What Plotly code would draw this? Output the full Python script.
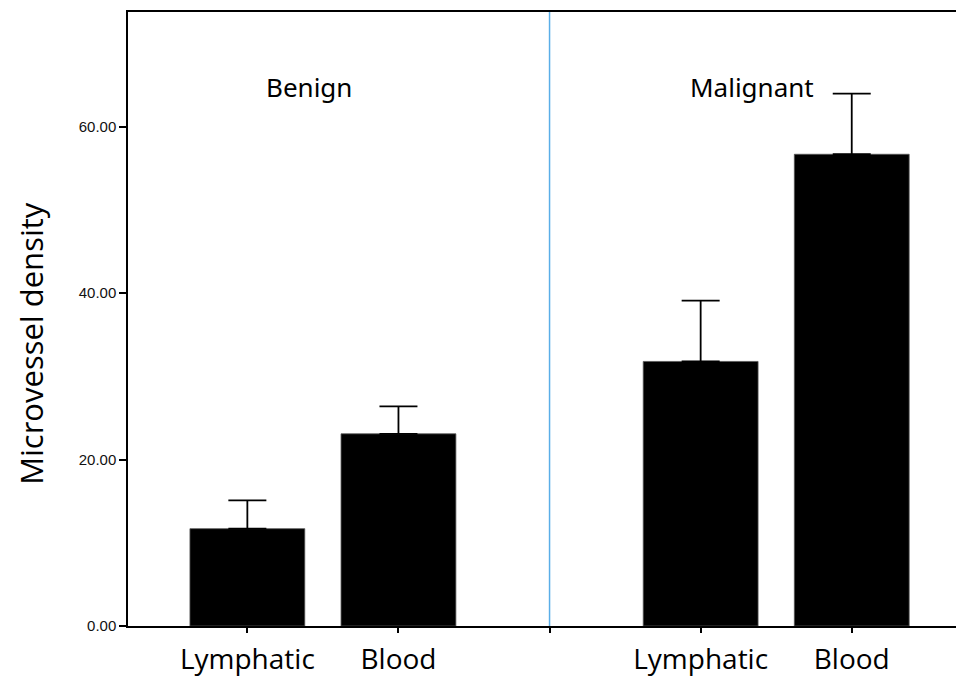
import plotly.graph_objects as go

# Data
positions = [0, 1, 3, 4]
vessel_types = ["Lymphatic", "Blood", "Lymphatic", "Blood"]
groups = ["Benign", "Benign", "Malignant", "Malignant"]
mean_density = [11.7, 23.1, 31.8, 56.7]
error_plus = [3.4, 3.3, 7.3, 7.3]

tick_positions = [0, 1, 2, 3, 4]
tick_labels = ["Lymphatic", "Blood", "", "Lymphatic", "Blood"]
y_ticks = [0, 20, 40, 60]
group_labels = ["Benign", "Malignant"]
group_label_x = [0.41, 3.34]
group_label_y = 64.8
divider_x = 2
y_title = "Microvessel density"

fig = go.Figure()
fig.add_trace(go.Bar(
    x=positions, y=mean_density, width=0.76,
    marker=dict(color="black", line=dict(color="#555", width=0.8)),
    error_y=dict(type="data", symmetric=False, array=error_plus,
                 arrayminus=[0] * len(error_plus),
                 color="black", thickness=1.8, width=19),
    showlegend=False,
))

fig.add_shape(type="line", x0=divider_x, x1=divider_x, y0=0, y1=1,
              xref="x", yref="paper",
              line=dict(color="#5aaee8", width=1.5))

for lab, lx in zip(group_labels, group_label_x):
    fig.add_annotation(x=lx, y=group_label_y, text=lab, showarrow=False,
                       font=dict(family="Noto Sans", size=26, color="black"))

fig.add_annotation(xref="paper", yref="paper", x=-0.118, y=0.46,
                   text=y_title, textangle=-90, showarrow=False,
                   xanchor="center", yanchor="middle",
                   font=dict(family="Open Sans", size=31, color="black"))

fig.update_layout(
    width=956, height=677,
    margin=dict(l=128, r=0, t=12, b=47),
    paper_bgcolor="white", plot_bgcolor="white",
    xaxis=dict(range=[-0.79, 4.69], tickvals=tick_positions, ticktext=tick_labels,
               showline=True, linecolor="black", linewidth=1.5, mirror=True,
               ticks="outside", ticklen=5, tickcolor="black", tickwidth=1.5,
               ticklabelstandoff=3,
               showgrid=False, zeroline=False,
               tickfont=dict(family="Open Sans", size=28, color="black")),
    yaxis=dict(range=[0, 73.8], tickvals=y_ticks,
               ticktext=["%.2f" % v for v in y_ticks],
               showline=True, linecolor="black", linewidth=1.5,
               ticks="outside", ticklen=7, tickcolor="black", tickwidth=1.5,
               showgrid=False, zeroline=False,
               tickfont=dict(family="Liberation Sans", size=15, color="#111")),
)

fig.write_html("out.html", config={"displayModeBar": False},
               post_script="document.body.style.margin='0';"
                           "document.body.style.overflow='hidden';")
